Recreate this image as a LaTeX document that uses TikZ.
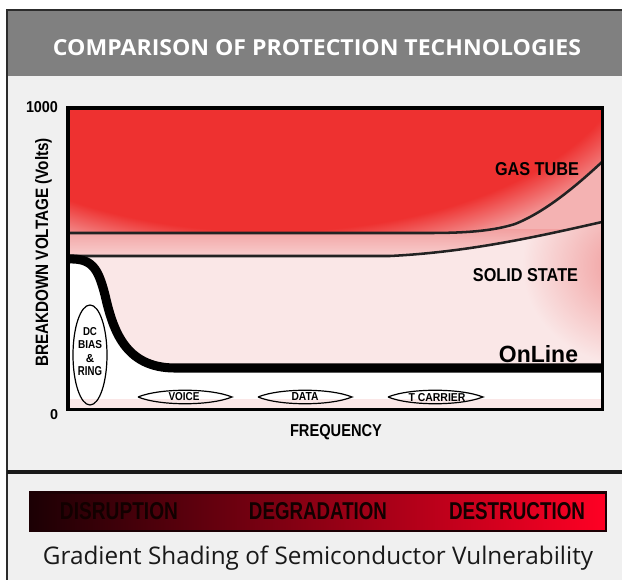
\documentclass[tikz,border=0pt]{standalone}
\usepackage{fontspec}
\usepackage{graphicx}
\setmainfont{Open Sans}
\newfontfamily\lbf{Liberation Sans}
\newdimen\pxu \pxu=0.75pt
\newcommand\fitwh[3]{\resizebox{#1\pxu}{#2\pxu}{#3}}
\newcommand\fith[2]{\resizebox{!}{#1\pxu}{#2}}
\definecolor{hdrgray}{HTML}{808080}
\definecolor{bggray}{HTML}{F0F0F0}
\definecolor{frmcol}{HTML}{2C2C2C}
\definecolor{redzone}{HTML}{EE3130}
\definecolor{Acol}{HTML}{F3A9A9}
\definecolor{Bcol}{HTML}{F4B2B2}
\definecolor{Btop}{HTML}{F2A2A2}
\definecolor{Bbot}{HTML}{F8CFCF}
\definecolor{Ccol}{HTML}{FAE7E7}
\definecolor{glowcol}{HTML}{F2A6A6}
\definecolor{curvecol}{HTML}{222222}
\definecolor{bardark}{HTML}{1C0004}
\definecolor{barred}{HTML}{FF0024}
\definecolor{bartext}{HTML}{120000}
\pgfdeclareradialshading{blobA}{\pgfpointorigin}{color(0bp)=(redzone); color(20.9bp)=(redzone); color(25bp)=(Acol); color(50bp)=(Acol)}
\pgfdeclareradialshading{glowC}{\pgfpointorigin}{color(0bp)=(glowcol); color(5bp)=(glowcol); color(25bp)=(Ccol); color(50bp)=(Ccol)}
\tikzset{
  lbl/.style={inner sep=0pt, outer sep=0pt, anchor=base, font=\lbf\bfseries},
  curveline/.style={draw=curvecol, line width=1.9pt},
  onlineline/.style={draw=black, line width=6.8pt},
  bandlens/.style={draw=black, line width=0.9pt},
}
\begin{document}
\begin{tikzpicture}[x=0.75pt, y=-0.75pt]
\useasboundingbox (0,0) rectangle (622,580);
% background and header
\fill[bggray] (7,10) rectangle (622,580);
\fill[hdrgray] (7,10) rectangle (622,76);
\draw[frmcol, line width=1.6pt] (7,580) -- (7,10) -- (622,10);
\draw[black!90, line width=3pt] (7,472.5) -- (622,472.5);
\node[anchor=base, inner sep=0pt, text=white] (title) at (317,56) {\fitwh{528}{16}{\bfseries COMPARISON OF PROTECTION TECHNOLOGIES}};

% plot area
\begin{scope}
\clip (68,108) rectangle (602,409);
% region above gas tube
\begin{scope}
\clip (68,108) -- (602,108) -- (602,162) .. controls (575,187) and (545,212) .. (515,224) .. controls (496,230) and (472,233) .. (430,233) -- (68,233) -- cycle;
\fill[Acol] (68,108) rectangle (602,240);
\shade[shading=blobA] (269,40) ellipse [x radius=435, y radius=229];
\end{scope}
% region between gas tube and solid state
\begin{scope}
\clip (68,233) -- (430,233) .. controls (472,233) and (496,230) .. (515,224) .. controls (545,212) and (575,187) .. (602,162) -- (602,222) .. controls (540,236) and (470,252) .. (390,256) -- (68,256) -- cycle;
\fill[Bcol] (68,150) rectangle (602,260);
\shade[top color=Btop, bottom color=Bbot] (68,230) rectangle (602,257);
\end{scope}
% region below solid state
\begin{scope}
\clip (68,256) -- (390,256) .. controls (470,252) and (540,236) .. (602,222) -- (602,409) -- (68,409) -- cycle;
\fill[Ccol] (68,215) rectangle (602,409);
\shade[shading=glowC] (632,265) ellipse [x radius=110, y radius=100];
\end{scope}
\fill[white] (68,259) .. controls (92,258) and (98,268) .. (105,295) .. controls (113,330) and (125,368) .. (175,368) -- (602,368) -- (602,399) -- (68,399) -- cycle;
\path[curveline] (68,233) -- (430,233) .. controls (472,233) and (496,230) .. (515,224) .. controls (545,212) and (575,187) .. (602,162);
\path[curveline] (68,256) -- (390,256) .. controls (470,252) and (540,236) .. (602,222);
\path[onlineline] (68,259) .. controls (92,258) and (98,268) .. (105,295) .. controls (113,330) and (125,368) .. (175,368) -- (602,368);
\end{scope}
\draw[black, line width=2.8pt] (68,108) rectangle (602.5,409.5);

% band markers
\draw[bandlens] (90,355) ellipse [x radius=17, y radius=50];
\draw[bandlens] (138,397) .. controls (160,388) and (210,388) .. (232,397) .. controls (210,406) and (160,406) .. (138,397);
\draw[bandlens] (258,397) .. controls (280,388) and (330,388) .. (352,397) .. controls (330,406) and (280,406) .. (258,397);
\draw[bandlens] (388,397) .. controls (410,388) and (460,388) .. (483,397) .. controls (460,406) and (410,406) .. (388,397);
\node[lbl] (dc) at (90,336) {\fitwh{14}{8}{DC}};
\node[lbl] (bias) at (90,349) {\fitwh{24}{8}{BIAS}};
\node[lbl] (amp) at (90,363) {\fith{8}{\&}};
\node[lbl] (ring) at (90,376) {\fitwh{24}{9}{RING}};
\node[lbl] (voice) at (184,401) {\fitwh{31}{8}{VOICE}};
\node[lbl] (data) at (305,401) {\fitwh{27}{8}{DATA}};
\node[lbl] (tcar) at (437,402) {\fitwh{57}{8}{T CARRIER}};

% curve labels
\node[lbl, anchor=base east] (gas) at (579,176) {\fitwh{84}{13}{GAS TUBE}};
\node[lbl, anchor=base east] (solid) at (578,282) {\fitwh{105}{13}{SOLID STATE}};
\node[lbl, anchor=base east] (online) at (578,363) {\fitwh{79}{17}{OnLine}};

% axes labels
\node[lbl] (ymax) at (42,113) {\fitwh{32}{11}{1000}};
\node[lbl] (ymin) at (54,420) {\fith{10}{0}};
\node[lbl, rotate=90] (ylab) at (48,252.5) {\fitwh{229}{13}{BREAKDOWN VOLTAGE (Volts)}};
\node[lbl] (xlab) at (336,437) {\fitwh{92}{12}{FREQUENCY}};

% gradient bar
\shade[left color=bardark, right color=barred] (30,492.5) rectangle (606,531);
\draw[bardark, line width=1.6pt] (30,492.5) rectangle (606,531);
\node[lbl, text=bartext] (dis) at (119,520) {\fitwh{118}{17}{DISRUPTION}};
\node[lbl, text=bartext] (deg) at (318,520) {\fitwh{138}{17}{DEGRADATION}};
\node[lbl, text=bartext] (des) at (517,520) {\fitwh{136}{17}{DESTRUCTION}};
\node[anchor=base, inner sep=0pt, text=black!90] (caption) at (318,565) {\resizebox{550\pxu}{!}{Gradient Shading of Semiconductor Vulnerability}};
\end{tikzpicture}
\end{document}
